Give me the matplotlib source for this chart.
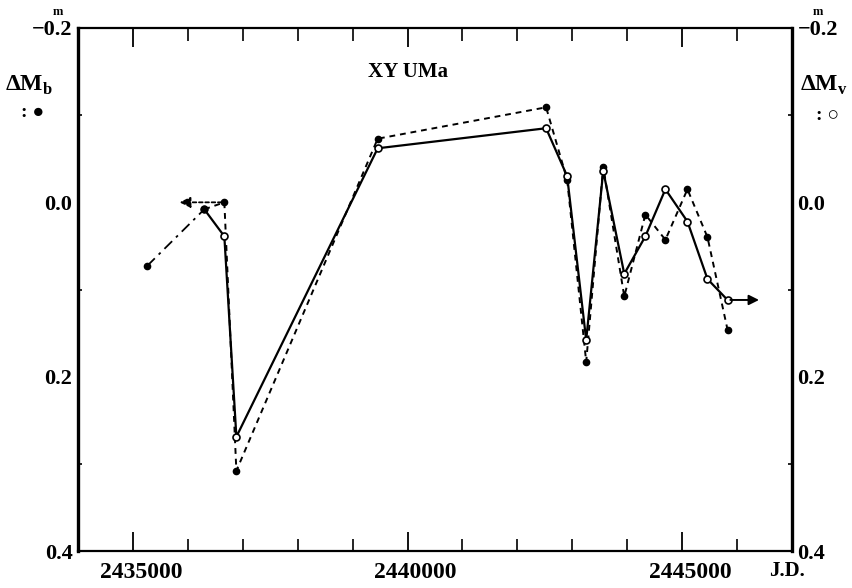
import numpy as np
import matplotlib.pyplot as plt
import matplotlib.transforms as mtransforms
from matplotlib.ticker import MultipleLocator, FixedLocator

# Julian dates of the observations
jd = [2436300, 2436665, 2436884, 2439457, 2442523, 2442906, 2443253,
      2443563, 2443946, 2444330, 2444695, 2445096, 2445461, 2445826]
# Delta M_b (filled dots, dashed line)
mag_b = [0.008, 0.000, 0.308, -0.073, -0.109, -0.026, 0.183,
         -0.041, 0.108, 0.014, 0.043, -0.015, 0.040, 0.146]
# Delta M_v (open circles, solid line)
mag_v = [0.008, 0.039, 0.269, -0.062, -0.085, -0.030, 0.158,
         -0.036, 0.082, 0.039, -0.015, 0.022, 0.088, 0.112]
# early photographic point joined by dash-dot line
jd_early = [2435259, 2436300]
mag_early = [0.073, 0.008]

xticks = [2435000, 2440000, 2445000]
yticks = [-0.2, 0.0, 0.2, 0.4]
ylabels = ["\u22120.2", "0.0", "0.2", "0.4"]

serif = "Liberation Serif"
plt.rcParams["font.family"] = serif

fig = plt.figure(figsize=(8.53, 5.88), dpi=100)
ax = fig.add_axes([0.0914, 0.0629, 0.8371, 0.8895])

ax.plot(jd_early, mag_early, color="black", lw=1.3, ls=(0, (6, 3, 1.5, 3)))
ax.plot(jd[1:], mag_b[1:], color="black", lw=1.4, ls=(0, (3, 2.5)))
ax.plot(jd[:2], mag_b[:2], color="black", lw=1.4, ls=(0, (3, 2.5)))
ax.plot(jd, mag_v, color="black", lw=1.6, ls="-")

ax.plot(jd_early, mag_early, "o", color="black", ms=4.5)
ax.plot(jd[1:], mag_b[1:], "o", color="black", ms=4.5)
ax.plot(jd[1:], mag_v[1:], "o", mfc="white", mec="black", mew=1.2, ms=5)
ax.plot(jd[0], mag_v[0], "o", color="black", ms=5)

# arrows
ax.annotate("", xy=(2435800, 0.0), xytext=(jd[1], mag_b[1]),
            arrowprops=dict(arrowstyle="-|>", color="black", lw=1.3,
                            ls=(0, (2, 1.5)), mutation_scale=16))
ax.annotate("", xy=(2446450, mag_v[-1]), xytext=(jd[-1], mag_v[-1]),
            arrowprops=dict(arrowstyle="-|>", color="black", lw=1.4,
                            mutation_scale=15))

ax.set_xlim(2434000, 2447000)
ax.set_ylim(0.4, -0.2)

ax.xaxis.set_major_locator(FixedLocator(xticks))
ax.xaxis.set_minor_locator(MultipleLocator(1000))
ax.yaxis.set_major_locator(FixedLocator(yticks))
ax.yaxis.set_minor_locator(MultipleLocator(0.1))
ax.set_xticklabels([str(t) for t in xticks])
ax.set_yticklabels(ylabels)

ax.tick_params(axis="x", which="major", direction="in", length=14, width=1.3,
               top=True, bottom=True, labelsize=17, pad=8)
ax.tick_params(axis="x", which="minor", direction="in", length=9, width=1.2,
               top=True, bottom=True)
ax.tick_params(axis="y", which="major", direction="in", length=0, width=1.2,
               left=True, right=True, labelleft=True, labelright=True,
               labelsize=16, pad=4)
ax.tick_params(axis="y", which="minor", direction="in", length=3, width=1.2,
               left=True, right=True)

# scanned labels sit a little right of their ticks
shift = mtransforms.ScaledTranslation(8 / 100, 0, fig.dpi_scale_trans)
for lab in ax.get_xticklabels():
    lab.set_transform(lab.get_transform() + shift)
for lab in ax.get_xticklabels() + ax.get_yticklabels():
    lab.set_fontweight("bold")

for side in ["left", "right"]:
    ax.spines[side].set_linewidth(2.4)
for side in ["top", "bottom"]:
    ax.spines[side].set_linewidth(1.6)

# titles and axis annotations
ax.text(2440000, -0.15, "XY UMa", ha="center", va="center", fontsize=15,
        fontweight="bold")
fig.text(0.034, 0.855, "\u0394M$_{\\mathregular{b}}$", ha="center", va="center",
         fontsize=17, fontweight="bold")
fig.text(0.038, 0.808, ": \u25cf", ha="center", va="center", fontsize=14,
         fontweight="bold", family=["Liberation Serif", "DejaVu Sans"])
fig.text(0.966, 0.855, "\u0394M$_{\\mathregular{v}}$", ha="center", va="center",
         fontsize=17, fontweight="bold")
fig.text(0.97, 0.803, ": \u25cb", ha="center", va="center", fontsize=14,
         fontweight="bold", family=["Liberation Serif", "DejaVu Sans"])
fig.text(0.068, 0.98, "m", ha="center", va="center", fontsize=9, fontweight="bold")
fig.text(0.959, 0.98, "m", ha="center", va="center", fontsize=9, fontweight="bold")
fig.text(0.923, 0.029, "J.D.", ha="center", va="center", fontsize=15,
         fontweight="bold")

fig.savefig("out.png", dpi=100, facecolor="white")
